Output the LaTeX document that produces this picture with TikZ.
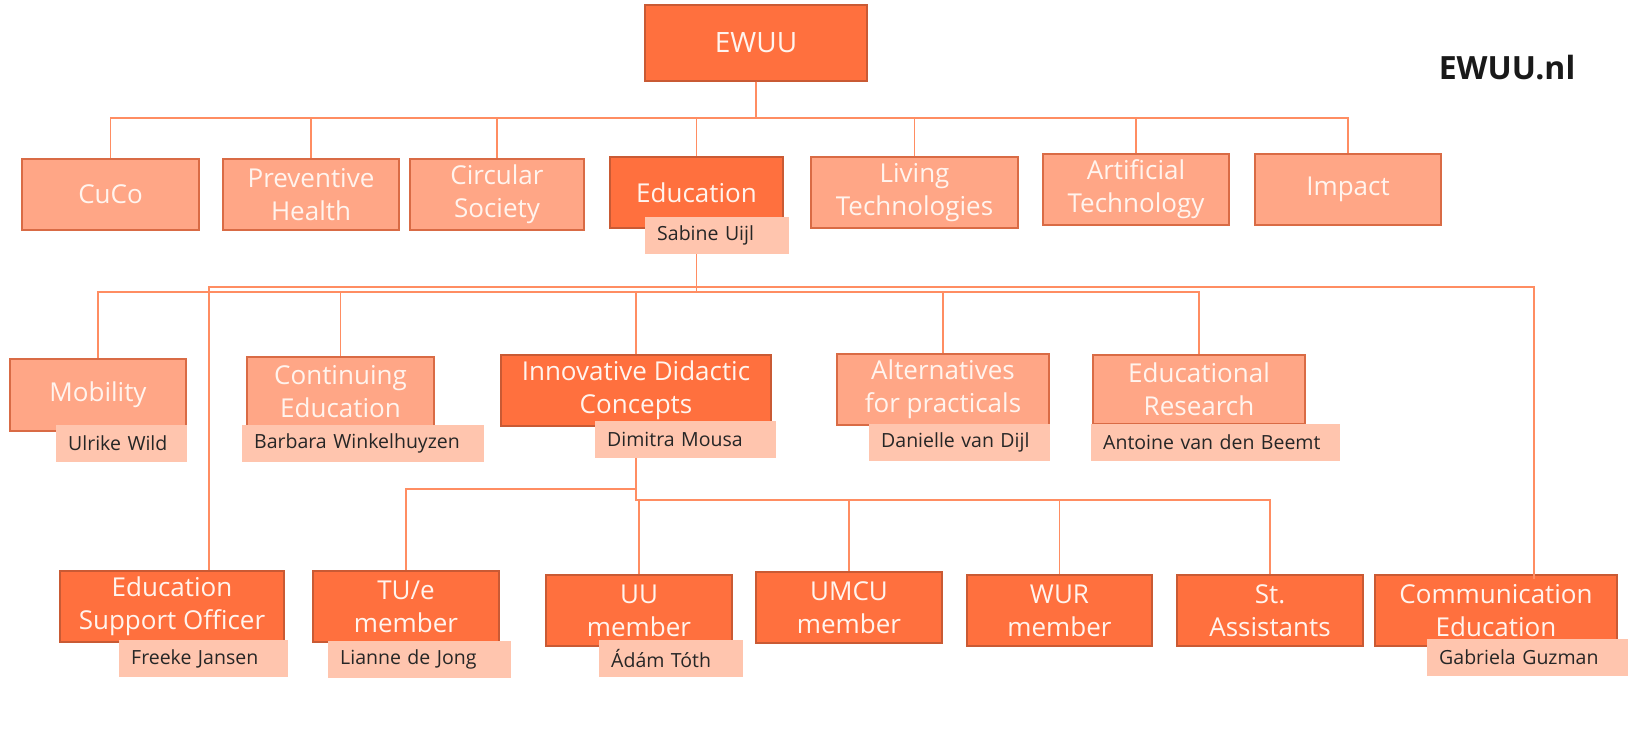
\documentclass[tikz,border=0pt]{standalone}
\usepackage{fontspec}
\setmainfont{Open Sans}
\usetikzlibrary{positioning}

\definecolor{darkorange}{HTML}{FF703E}
\definecolor{darkedge}{HTML}{C95A34}
\definecolor{lightorange}{HTML}{FFA686}
\definecolor{lightedge}{HTML}{D96B45}
\definecolor{tagfill}{HTML}{FFC5AE}
\definecolor{linkcol}{HTML}{FF8D62}
\definecolor{boxtext}{HTML}{FFF4EE}

\begin{document}
\begin{tikzpicture}
            [x=1pt, y=-1pt,
             box/.style={rectangle, draw, line width=1.2pt, inner sep=0pt, align=center,
                         text=boxtext, font=\fontsize{26}{33}\selectfont},
             boxsize/.style 2 args={minimum width=#1pt, minimum height=#2pt},
             main node/.style={box, fill=darkorange, draw=darkedge},
             sub node/.style={box, fill=lightorange, draw=lightedge},
             name tag/.style={rectangle, fill=tagfill, anchor=west, inner xsep=12pt, inner ysep=0pt,
                              minimum height=37pt, text width=#1pt, align=left,
                              text=black!85, font=\fontsize{19.5}{22}\selectfont},
             link/.style={draw=linkcol, line width=1.6pt}]
            \useasboundingbox (0,0) rectangle (1640,741);

            % top
            \node[main node, boxsize={222}{76}, font=\fontsize{28}{34}\selectfont] (ewuu) at (756,43) {EWUU};
            \node[font=\bfseries\fontsize{32}{38}\selectfont, text=black!90] (site) at (1507,68) {EWUU.nl};

            % themes
            \node[sub node, boxsize={177}{71}] (cuco) at (110.5,194.5) {CuCo};
            \node[sub node, boxsize={176}{71}] (prev) at (311,194.5) {Preventive\\Health};
            \node[sub node, boxsize={174}{71}] (circ) at (497,194.5) {Circular\\Society};
            \node[main node, boxsize={173}{71}] (educ) at (696.5,192.5) {Education};
            \node[sub node, boxsize={207}{71}] (living) at (914.5,192.5) {Living\\Technologies};
            \node[sub node, boxsize={186}{71}] (artif) at (1136,189.5) {Artificial\\Technology};
            \node[sub node, boxsize={186}{71}] (impact) at (1348,189.5) {Impact};
            \node[name tag=120] (sabine) at (645,235.5) {Sabine Uijl};

            % education groups
            \node[sub node, boxsize={176}{72}] (mob) at (98,395) {Mobility};
            \node[sub node, boxsize={187}{69}] (conted) at (340.5,391.5) {Continuing\\Education};
            \node[main node, boxsize={270}{71}] (idc) at (636,390.5) {Innovative Didactic\\Concepts};
            \node[sub node, boxsize={212}{71}] (alt) at (943,389.5) {Alternatives\\for practicals};
            \node[sub node, boxsize={212}{69}] (edres) at (1199,389.5) {Educational\\Research};
            \node[name tag=107] (ulrike) at (56,443) {Ulrike Wild};
            \node[name tag=218] (barbara) at (242,443.5) {Barbara Winkelhuyzen};
            \node[name tag=157] (dimitra) at (595,439.5) {Dimitra Mousa};
            \node[name tag=157] (danielle) at (869,442.5) {Danielle van Dijl};
            \node[name tag=225] (antoine) at (1091,442.5) {Antoine van den Beemt};

            % members
            \node[main node, boxsize={224}{71}] (eso) at (172,606.5) {Education\\Support Officer};
            \node[main node, boxsize={186}{71}] (tue) at (406,606.5) {TU/e\\member};
            \node[main node, boxsize={186}{71}] (uu) at (639,610.5) {UU\\member};
            \node[main node, boxsize={186}{71}] (umcu) at (849,607.5) {UMCU\\member};
            \node[main node, boxsize={185}{71}] (wur) at (1059.5,610.5) {WUR\\member};
            \node[main node, boxsize={186}{71}] (st) at (1270,610.5) {St.\\Assistants};
            \node[main node, boxsize={242}{71}] (comm) at (1496,610.5) {Communication\\Education};
            \node[name tag=145] (freeke) at (119,658.5) {Freeke Jansen};
            \node[name tag=159] (lianne) at (328,659.5) {Lianne de Jong};
            \node[name tag=120] (adam) at (599,658.5) {Ádám Tóth};
            \node[name tag=177] (gabriela) at (1427,657.5) {Gabriela Guzman};

            % connectors
            \coordinate (top bus) at (ewuu.south |- 0,118);
            \foreach \n in {cuco,prev,circ,educ,living,artif,impact}
                \draw[link] (ewuu.south) -- (top bus) -| (\n.north);

            \coordinate (edu drop) at (educ.center |- sabine.south);
            \coordinate (edu bus) at (educ.center |- 0,292);
            \coordinate (wide bus) at (educ.center |- 0,287);
            \foreach \n in {mob,conted,idc,alt,edres}
                \draw[link] (edu drop) -- (edu bus) -| (\n.north);
            \draw[link] (edu drop) -- (wide bus) -| ([xshift=37pt]eso.north);
            \draw[link] (edu drop) -- (wide bus) -| ([xshift=38pt,yshift=-5pt]comm.north);

            \coordinate (idc drop) at (idc.center |- dimitra.south);
            \coordinate (tue bus) at (idc.center |- 0,489);
            \coordinate (member bus) at (idc.center |- 0,500);
            \draw[link] (idc drop) -- (tue bus) -| (tue.north);
            \foreach \n in {uu,umcu,wur,st}
                \draw[link] (idc drop) -- (member bus) -| (\n.north);
\end{tikzpicture}
\end{document}
